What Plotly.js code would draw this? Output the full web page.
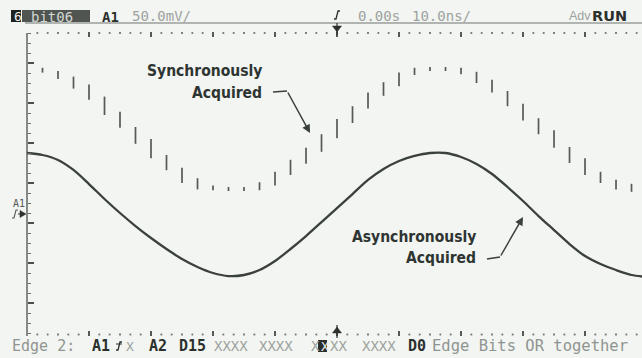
<!DOCTYPE html>
<html><head><meta charset="utf-8">
<script src="https://cdn.plot.ly/plotly-3.0.1.min.js"></script>
<style>html,body{margin:0;padding:0;background:#f2f5f1;}#chart{width:642px;height:358px;}</style>
</head><body><div id="chart"></div>
<script>
// ---- data (time in ns, level in mV) ----
const asyncTimeNs = [-50,-47.5,-45,-42.5,-40,-37.5,-35,-32.5,-30,-27.5,-25,-22.5,-20,-17.5,-15,-12.5,-10,-7.5,-5,-2.5,0,2.5,5,7.5,10,12.5,15,17.5,20,22.5,25,27.5,30,32.5,35,37.5,40,42.5,45,47.5,50];
const asyncMv = [37.5,35,28.8,16.3,-1.3,-20,-37.5,-53.8,-68.8,-82.5,-95,-105,-112.5,-116.3,-115,-108.8,-97.5,-82.5,-66.3,-48.8,-31.3,-13.8,3.8,17.5,27.5,33.8,37.5,37.5,32.5,23.8,11.3,-5,-22.5,-41.3,-58.8,-76.3,-91.3,-101.3,-108.8,-115,-117.5];
const syncTimeNs = [-47.5,-45,-42.5,-40,-37.5,-35,-32.5,-30,-27.5,-25,-22.5,-20,-17.5,-15,-12.5,-10,-7.5,-5,-2.5,0,2.5,5,7.5,10,12.5,15,17.5,20,22.5,25,27.5,30,32.5,35,37.5,40,42.5,45,47.5];
const syncHighMv = [144,140,133,123,108,89,70,55,35,19,6,-3,-5,-5,1,14,29,44,61,80,96,113,126,138,144,145,145,144,139,129,115,99,81,66,45,31,14,4,-1];
const syncLowMv  = [138,130,118,104,85,69,49,31,16,0,-8,-9,-10,-10,-9,-3,10,24,39,56,75,93,109,121,135,140,140,136,125,113,96,78,61,44,25,10,0,-8,-11];

// ---- texts ----
const headerBadge = "6";
const headerName = "bit06";
const chanLabel = "A1";
const voltScale = "50.0mV/";
const timeDelay = "0.00s";
const timeScale = "10.0ns/";
const advLabel = "Adv";
const runLabel = "RUN";
const syncLabel = ["Synchronously", "Acquired"];
const asyncLabel = ["Asynchronously", "Acquired"];
const markerLabel = "A1";

// ---- graticule (divisions) ----
const timePerDivNs = 10, subTicksPerDiv = 6;
const voltPerDivMv = 50, vSubTicksPerDiv = 4;

// ---- geometry helpers (pixel -> paper) ----
const L = 27, R = 642, T = 23, B = 343;
const px = x => (x - L) / (R - L);
const py = y => (B - y) / (B - T);
const xRange = [-50, 49.19];
const yRange = [-200, 200];
const pyToMv = y => yRange[1] - (y - T) / (B - T) * (yRange[1] - yRange[0]);

const DARK = '#2b302d', GRAY = '#9da29f', LINE = '#3a403c';
const MONO = 'DejaVu Sans Mono, monospace';

// sync bars built from the arrays
const sx = [], sy = [];
syncTimeNs.forEach((t, i) => { sx.push(t, t, null); sy.push(syncHighMv[i], syncLowMv[i], null); });

// ruler dots (minor graticule marks on top & bottom rows)
const dotX = [], dotY = [];
const step = timePerDivNs / subTicksPerDiv;
for (let k = 0; xRange[0] + k * step <= xRange[1]; k++) {
  if (k % subTicksPerDiv === 0) continue;
  const t = xRange[0] + k * step;
  dotX.push(t, t); dotY.push(pyToMv(33), pyToMv(334.5));
}

const traces = [
  {x: asyncTimeNs, y: asyncMv, type: 'scatter', mode: 'lines',
   line: {color: LINE, width: 2.3, shape: 'spline', smoothing: 0.8}, hoverinfo: 'skip'},
  {x: sx, y: sy, type: 'scatter', mode: 'lines', connectgaps: false,
   line: {color: '#555a57', width: 1.7}, hoverinfo: 'skip'},
  {x: dotX, y: dotY, type: 'scatter', mode: 'markers', cliponaxis: false,
   marker: {symbol: 'square', size: 1.8, color: '#6f7471', line: {width: 0}}, hoverinfo: 'skip'},
  {x: [-50], y: [0], xaxis: 'x2', type: 'scatter', mode: 'markers',
   marker: {opacity: 0}, hoverinfo: 'skip'}
];

function txt(s, x, y, o = {}) {
  return Object.assign({text: s, xref: 'paper', yref: 'paper', x: px(x), y: py(y),
    xanchor: 'left', yanchor: 'middle', showarrow: false,
    font: Object.assign({family: MONO, size: 14, color: GRAY}, o.font || {})},
    o.font ? (() => { const c = Object.assign({}, o); delete c.font; return c; })() : o);
}
function edge(x, y, w = 1.3, c = DARK) {
  return {type: 'path', xref: 'paper', yref: 'paper',
    path: `M ${px(x-3)},${py(y+4)} L ${px(x-1)},${py(y+4)} L ${px(x+1)},${py(y-4)} L ${px(x+3)},${py(y-4)}`,
    line: {color: c, width: w}};
}
function tri(pts, c = DARK) {
  return {type: 'path', xref: 'paper', yref: 'paper',
    path: 'M ' + pts.map(p => `${px(p[0])},${py(p[1])}`).join(' L ') + ' Z',
    fillcolor: c, line: {color: c, width: 0.5}};
}
function seg(x0, y0, x1, y1, c, w) {
  return {type: 'line', xref: 'paper', yref: 'paper', x0: px(x0), y0: py(y0), x1: px(x1), y1: py(y1),
    line: {color: c, width: w}};
}
function box(x0, y0, x1, y1, c) {
  return {type: 'rect', xref: 'paper', yref: 'paper', x0: px(x0), y0: py(y0), x1: px(x1), y1: py(y1),
    fillcolor: c, line: {width: 0}};
}

const condensed = {family: 'DejaVu Sans Condensed, Liberation Sans Narrow, Liberation Sans, sans-serif', size: 15.5, color: '#2e3431', weight: 'bold'};

const shapes = [
  seg(25, 23, 642, 23, '#707572', 1),
  seg(27, 33, 27, 336, '#4a4f4c', 1.3),
  box(11, 10, 21, 22, '#1f2320'),
  box(22, 10, 90, 22, '#505552'),
  edge(337, 15),
  seg(337, 23, 337, 35, DARK, 1.2),
  tri([[332.5, 26], [341.5, 26], [337, 32]]),
  seg(337, 325, 337, 338, DARK, 1.2),
  tri([[332.5, 333], [341.5, 333], [337, 327]]),
  edge(15, 214, 1.1, '#555a57'),
  seg(18, 214, 21, 214, DARK, 1),
  tri([[20, 210.5], [26, 214], [20, 217.5]]),
  edge(119, 346, 1.3, DARK),
  seg(116, 344, 122, 344, DARK, 1),
  box(318, 340, 327, 352, '#2b2f2c'),
  // arrow tails
  {type: 'line', xref: 'x', yref: 'y', x0: -10.32, y0: 113.75, x1: -8.06, y1: 115, line: {color: LINE, width: 1.5}},
  {type: 'line', xref: 'x', yref: 'y', x0: 24.19, y0: -95, x1: 26.29, y1: -92.5, line: {color: LINE, width: 1.5}}
];

const annotations = [
  txt(headerBadge, 12, 16.5, {font: {color: '#f0f0f0', size: 13}}),
  txt(headerName, 29, 16.5, {font: {color: '#d4d8d5', size: 14}}),
  txt(chanLabel, 100, 16.5, {font: {color: DARK, size: 14, weight: 'bold'}}),
  txt(voltScale, 130, 16, {font: {size: 14}}),
  txt(timeDelay, 356, 16, {font: {size: 14}}),
  txt(timeScale, 410, 16, {font: {size: 14}}),
  txt(advLabel, 567, 16, {font: {family: 'Liberation Sans, sans-serif', size: 12.5}}),
  txt(runLabel, 590, 16, {font: {family: 'DejaVu Sans, sans-serif', size: 14.5, color: DARK, weight: 'bold'}}),
  txt(markerLabel, 11, 203.5, {font: {size: 10, color: '#555a57'}}),
  // bottom status line
  txt("Edge 2:", 10, 346, {font: {size: 15, color: '#8f9491'}}),
  txt("A1", 90, 346, {font: {size: 15, color: DARK, weight: 'bold'}}),
  txt("X", 124, 346, {font: {size: 13}}),
  txt("A2", 147, 346, {font: {size: 15, color: DARK, weight: 'bold'}}),
  txt("D15", 177, 346, {font: {size: 15, color: DARK, weight: 'bold'}}),
  txt("XXXX", 212, 346, {font: {size: 14}}),
  txt("XXXX", 257, 346, {font: {size: 14}}),
  txt("X", 309, 346, {font: {size: 14}}),
  txt("X", 318.5, 346, {font: {size: 13, color: '#e8ebe8'}}),
  txt("XX", 328, 346, {font: {size: 14}}),
  txt("XXXX", 360, 346, {font: {size: 14}}),
  txt("D0", 406, 346, {font: {size: 15, color: DARK, weight: 'bold'}}),
  txt("Edge Bits OR together", 430, 346, {font: {size: 15.5, color: '#8f9491'}}),
  // callouts
  {text: syncLabel[0], xref: 'paper', yref: 'paper', x: px(264), y: py(71), xanchor: 'right', yanchor: 'middle', showarrow: false, font: condensed},
  {text: syncLabel[1], xref: 'paper', yref: 'paper', x: px(264), y: py(93), xanchor: 'right', yanchor: 'middle', showarrow: false, font: condensed},
  {text: asyncLabel[0], xref: 'paper', yref: 'paper', x: px(478), y: py(237), xanchor: 'right', yanchor: 'middle', showarrow: false, font: condensed},
  {text: asyncLabel[1], xref: 'paper', yref: 'paper', x: px(478), y: py(258), xanchor: 'right', yanchor: 'middle', showarrow: false, font: condensed},
  {text: '', x: -4.35, y: 62.5, xref: 'x', yref: 'y', ax: -8.06, ay: 115, axref: 'x', ayref: 'y',
   showarrow: true, arrowhead: 2, arrowsize: 1.1, arrowwidth: 1.5, arrowcolor: LINE, standoff: 0},
  {text: '', x: 30, y: -42.5, xref: 'x', yref: 'y', ax: 26.29, ay: -92.5, axref: 'x', ayref: 'y',
   showarrow: true, arrowhead: 2, arrowsize: 1.1, arrowwidth: 1.5, arrowcolor: LINE, standoff: 0}
];

const rulerCommon = {range: xRange, showgrid: false, zeroline: false, showline: false, showticklabels: false,
  ticks: 'inside', tickmode: 'linear', tick0: 0, dtick: timePerDivNs, ticklen: 5, tickwidth: 1.2, tickcolor: '#555a57',
  fixedrange: true};

const layout = {
  width: 642, height: 358,
  margin: {l: L, r: 0, t: T, b: 358 - B, pad: 0},
  paper_bgcolor: '#f2f5f1', plot_bgcolor: '#f2f5f1',
  showlegend: false,
  xaxis: Object.assign({}, rulerCommon, {anchor: 'free', position: py(336)}),
  xaxis2: Object.assign({}, rulerCommon, {overlaying: 'x', side: 'top', anchor: 'free', position: py(31)}),
  yaxis: {range: yRange, anchor: 'free', position: 0, showgrid: false, zeroline: false, showline: false,
    showticklabels: false, ticks: 'inside', tickmode: 'linear', tick0: 0, dtick: voltPerDivMv, ticklen: 6, tickwidth: 1.2,
    tickcolor: '#4a4f4c', mirror: 'ticks',
    minor: {ticks: 'inside', tickmode: 'linear', tick0: 0, dtick: voltPerDivMv / vSubTicksPerDiv, ticklen: 3, tickwidth: 1, tickcolor: '#6a6f6c'},
    fixedrange: true},
  shapes: shapes,
  annotations: annotations
};

Plotly.newPlot('chart', traces, layout, {staticPlot: true, displayModeBar: false});
</script></body></html>
